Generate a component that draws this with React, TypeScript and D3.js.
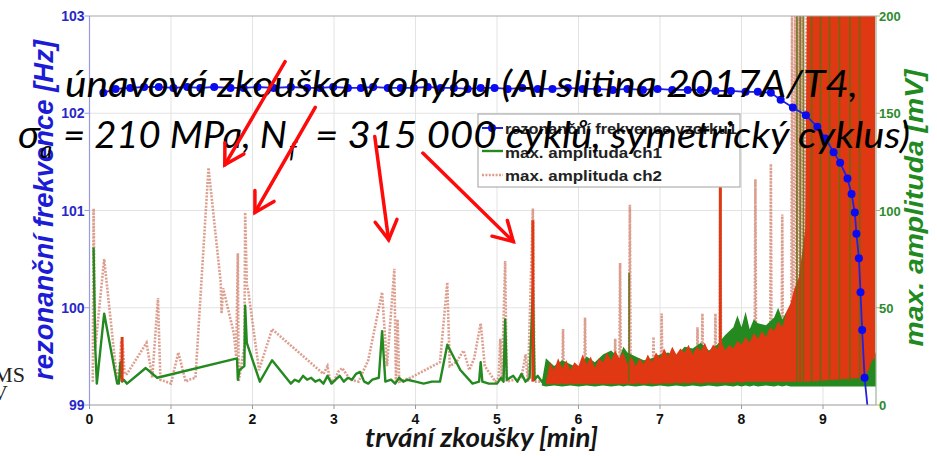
import React from "react";
import * as d3 from "d3";

const W = 937;
const H = 456;

const xTicks = [0, 1, 2, 3, 4, 5, 6, 7, 8, 9];
const freqTicks = [99, 100, 101, 102, 103];
const ampTicks = [0, 50, 100, 150, 200];

// resonant frequency of sample (Hz)
const freqTime = [
  0.17, 0.32, 0.5, 0.67, 0.85, 1.03, 1.2, 1.36, 1.53, 1.73,
  1.89, 2.06, 2.26, 2.47, 2.67, 2.83, 2.99, 3.17, 3.33, 3.48,
  3.66, 3.82, 3.98, 4.15, 4.31, 4.47, 4.64, 4.8, 4.97, 5.13,
  5.31, 5.5, 5.68, 5.87, 6.05, 6.23, 6.42, 6.6, 6.79, 6.97,
  7.15, 7.34, 7.5, 7.68, 7.87, 8.05, 8.2, 8.36, 8.48, 8.63,
  8.79, 8.93, 9.03, 9.13, 9.21, 9.3, 9.35, 9.39, 9.41, 9.44,
  9.46, 9.48, 9.51, 9.55,
];
const freqHz = [
  102.21, 102.25, 102.26, 102.27, 102.27, 102.26, 102.27, 102.26, 102.27, 102.26,
  102.26, 102.27, 102.26, 102.27, 102.26, 102.26, 102.27, 102.26, 102.26, 102.27,
  102.26, 102.26, 102.26, 102.27, 102.26, 102.26, 102.25, 102.26, 102.26, 102.25,
  102.26, 102.25, 102.25, 102.26, 102.25, 102.25, 102.24, 102.25, 102.24, 102.25,
  102.24, 102.24, 102.24, 102.23, 102.23, 102.22, 102.22, 102.21, 102.14, 102.06,
  101.98, 101.86, 101.74, 101.6, 101.49, 101.33, 101.17, 100.98, 100.76, 100.51,
  100.16, 99.77, 99.28, 98.95,
];

// max amplitude ch1 (mV), sparse part
const ch1Time = [
  0.05, 0.07, 0.09, 0.18, 0.34, 0.36, 0.38, 0.4, 0.42, 0.46,
  0.69, 0.83, 1.81, 1.82, 1.84, 1.9, 1.91, 1.93, 2.09, 2.24,
  2.47, 2.52, 2.57, 2.62, 2.67, 2.72, 2.77, 2.82, 2.87, 2.92,
  2.97, 3.02, 3.07, 3.12, 3.17, 3.22, 3.27, 3.32, 3.37, 3.42,
  3.47, 3.55, 3.59, 3.63, 3.7, 3.75, 3.8, 3.85, 3.9, 4.0,
  4.1, 4.2, 4.3, 4.39, 4.55, 4.7, 4.78, 4.8, 4.82, 4.9,
  5.0, 5.05, 5.08, 5.1, 5.12, 5.2, 5.25, 5.3, 5.35, 5.4,
  5.44, 5.46, 5.5, 5.55, 5.6,
];
const ch1Mv = [
  81, 30, 11, 47, 11, 11, 22, 12, 13, 11,
  19, 14, 24, 13, 18, 20, 51, 32, 12, 23,
  11, 13, 12, 15, 13, 14, 12, 13, 11, 15,
  11, 13, 15, 12, 14, 13, 16, 17, 12, 11,
  13, 14, 38, 12, 13, 11, 14, 12, 13, 12,
  11, 12, 12, 31, 18, 11, 12, 22, 12, 11,
  11, 14, 12, 44, 13, 15, 12, 16, 12, 14,
  60, 13, 15, 12, 14,
];

// ch1 dense part (envelope of the noise)
const ch1BandTime = [
  5.55, 5.6, 5.7, 5.8, 5.9, 6.0, 6.1, 6.2, 6.3, 6.4,
  6.5, 6.55, 6.6, 6.7, 6.8, 6.9, 7.0, 7.1, 7.2, 7.3,
  7.4, 7.5, 7.6, 7.7, 7.8, 7.9, 7.95, 8.0, 8.05, 8.1,
  8.15, 8.2, 8.3, 8.4, 8.45, 8.5, 8.55, 8.6, 8.7, 8.79,
  8.81, 9.55, 9.6, 9.65,
];
const ch1BandHigh = [
  12, 24, 20, 23, 21, 19, 25, 22, 26, 28,
  24, 30, 27, 25, 23, 24, 26, 27, 25, 30,
  29, 32, 28, 31, 36, 40, 46, 40, 48, 39,
  44, 42, 41, 45, 50, 44, 48, 40, 32, 30,
  200, 200, 32, 26,
];
const ch1BandLow = [
  10, 9.5, 10, 9.5, 10, 9.5, 10, 9.5, 10, 9.5,
  10, 9.5, 10, 9.5, 10, 9.5, 10, 9.5, 10, 9.5,
  10, 9.5, 10, 9.5, 10, 9.5, 10, 9.5, 10, 9.5,
  10, 9.5, 10, 9.5, 10, 9.5, 10, 9.5, 9.5, 9.5,
  9.5, 9.5, 9.5, 9.5,
];
const ch1SpikeTime = [6.62, 8.68, 8.72, 8.76, 8.86, 8.97, 9.08, 9.2, 9.33, 9.45];
const ch1SpikeMv = [68, 200, 200, 200, 200, 200, 200, 200, 200, 200];

// max amplitude ch2 (mV), sparse part
const ch2Time = [
  0.04, 0.05, 0.07, 0.18, 0.34, 0.37, 0.39, 0.41, 0.43, 0.46,
  0.7, 0.77, 0.84, 0.87, 1.0, 1.09, 1.18, 1.22, 1.3, 1.46,
  1.61, 1.62, 1.64, 1.77, 1.8, 1.82, 1.83, 1.9, 1.91, 1.93,
  1.95, 2.08, 2.24, 2.87, 2.92, 2.95, 3.0, 3.05, 3.1, 3.2,
  3.3, 3.42, 3.59, 3.65, 3.74, 3.76, 3.78, 3.8, 3.94, 4.3,
  4.39, 4.42, 4.5, 4.59, 4.66, 4.72, 4.8, 4.85, 4.98, 5.02,
  5.04, 5.06, 5.1, 5.12, 5.3, 5.35, 5.38, 5.44, 5.46, 5.6,
  5.8, 5.81, 5.82, 6.07, 6.08, 6.09, 6.44, 6.45, 6.46, 6.5,
  6.51, 6.52, 6.62, 6.63, 6.64, 6.91, 6.92, 6.93, 7.01, 7.02,
  7.03, 7.45, 7.46, 7.47, 7.51, 7.52, 7.53, 7.67, 7.68, 7.69,
  7.73, 7.74, 7.75, 8.16, 8.17, 8.18, 8.35, 8.36, 8.37, 8.49,
  8.5, 8.51, 8.61, 8.62, 8.63, 8.66, 8.67, 8.7, 8.71, 8.74,
  8.75, 8.8,
];
const ch2Mv = [
  12, 101, 29, 75, 12, 20, 33, 30, 16, 16,
  32, 14, 55, 13, 11, 27, 12, 13, 14, 122,
  63, 47, 60, 37, 25, 78, 12, 30, 99, 62,
  58, 18, 39, 16, 20, 13, 12, 17, 19, 13,
  12, 23, 58, 20, 70, 12, 44, 12, 14, 22,
  63, 20, 22, 28, 18, 24, 42, 20, 12, 14,
  34, 12, 74, 12, 14, 26, 12, 101, 12, 12,
  14, 39, 14, 14, 45, 14, 15, 34, 15, 15,
  73, 15, 15, 103, 15, 15, 35, 15, 15, 47,
  15, 15, 40, 15, 15, 47, 15, 15, 47, 15,
  15, 112, 15, 15, 116, 15, 15, 124, 15, 15,
  98, 15, 15, 200, 30, 200, 30, 200, 30, 200,
  30, 200,
];

// ch2 dense part (envelope of the noise)
const ch2BandTime = [
  5.6, 5.65, 5.7, 5.75, 5.8, 5.85, 5.9, 5.95, 6.0, 6.05,
  6.1, 6.15, 6.2, 6.25, 6.3, 6.35, 6.4, 6.45, 6.5, 6.55,
  6.6, 6.65, 6.7, 6.75, 6.8, 6.85, 6.9, 6.95, 7.0, 7.05,
  7.1, 7.15, 7.2, 7.25, 7.3, 7.35, 7.4, 7.45, 7.5, 7.55,
  7.6, 7.65, 7.7, 7.75, 7.8, 7.85, 7.9, 7.95, 8.0, 8.05,
  8.1, 8.15, 8.2, 8.25, 8.3, 8.35, 8.4, 8.45, 8.5, 8.55,
  8.6, 8.65, 8.7, 8.75, 8.78, 8.8, 9.5, 9.56, 9.6, 9.64,
];
const ch2BandHigh = [
  12, 22, 18, 24, 19, 23, 18, 22, 20, 26,
  21, 25, 19, 24, 22, 27, 23, 28, 24, 27,
  21, 25, 20, 24, 21, 26, 22, 27, 24, 29,
  25, 30, 26, 29, 27, 31, 26, 30, 28, 32,
  27, 31, 29, 33, 28, 31, 29, 33, 31, 35,
  32, 37, 34, 38, 35, 40, 38, 43, 40, 48,
  52, 60, 65, 80, 90, 200, 200, 200, 200, 200,
];
const ch2BandLow = [
  11, 10.5, 11, 10.5, 11, 10.5, 11, 10.5, 11, 10.5,
  11, 10.5, 11, 10.5, 11, 10.5, 11, 10.5, 11, 10.5,
  11, 10.5, 11, 11, 10.5, 11, 11, 10.5, 11, 11,
  11, 11, 11.5, 11, 11.5, 11, 11.5, 11.5, 11, 11.5,
  11.5, 11.5, 11.5, 11.5, 11.5, 11.5, 11.5, 12, 11.5, 12,
  12, 12, 12, 12, 12, 12, 12, 12, 12, 12,
  12, 12, 12, 12, 12, 12, 14, 18, 23, 24,
];
// ch2 dense single spikes (solid)
const ch2SolidTime = [0.4, 5.44, 7.74];
const ch2SolidMv = [35, 95, 112];
const ch2SolidBase = [12, 12, 14];

// annotation arrows (tail -> tip, in data coords: min, Hz)
const arrowTailT = [2.4, 2.77, 3.5, 4.09];
const arrowTailHz = [102.53, 102.06, 101.76, 101.59];
const arrowTipT = [1.66, 2.03, 3.67, 5.2];
const arrowTipHz = [101.47, 100.98, 100.7, 100.68];

const legendLabels = ["rezonanční frekvence vzorku1", "max. amplituda ch1", "max. amplituda ch2"];

const BLUE = "#0b0bf0";
const GREEN = "#24891f";
const RED = "#df3812";
const TAN = "#cf7a64";

export default function App() {
  const x = d3.scaleLinear().domain([0, 9.65]).range([89.5, 876]);
  const yF = d3.scaleLinear().domain([99, 103]).range([405, 16]);
  const yA = d3.scaleLinear().domain([0, 200]).range([405, 16]);

  const idx = (n: number) => d3.range(n);

  const freqLine = d3.line<number>().x((i) => x(freqTime[i])).y((i) => yF(freqHz[i]))(idx(freqTime.length));
  const ch1Line = d3.line<number>().x((i) => x(ch1Time[i])).y((i) => yA(ch1Mv[i]))(idx(ch1Time.length));
  const ch2Line = d3.line<number>().x((i) => x(ch2Time[i])).y((i) => yA(ch2Mv[i]))(idx(ch2Time.length));
  const ch1Band = d3
    .area<number>()
    .x((i) => x(ch1BandTime[i]))
    .y0((i) => yA(ch1BandLow[i]))
    .y1((i) => yA(ch1BandHigh[i]))(idx(ch1BandTime.length));
  const ch2Band = d3
    .area<number>()
    .x((i) => x(ch2BandTime[i]))
    .y0((i) => yA(ch2BandLow[i]))
    .y1((i) => yA(ch2BandHigh[i]))(idx(ch2BandTime.length));

  const x0 = x(0);
  const x1 = x(9.65);
  const yTop = yF(103);
  const yBot = yF(99);

  const arrows = arrowTailT.map((_, i) => {
    const tx = x(arrowTailT[i]);
    const ty = yF(arrowTailHz[i]);
    const px = x(arrowTipT[i]);
    const py = yF(arrowTipHz[i]);
    const ang = Math.atan2(ty - py, tx - px);
    const L = 22;
    const a = (30 * Math.PI) / 180;
    const h1 = [px + L * Math.cos(ang + a), py + L * Math.sin(ang + a)];
    const h2 = [px + L * Math.cos(ang - a), py + L * Math.sin(ang - a)];
    return { tx, ty, px, py, h1, h2 };
  });

  const titleFont = "Lato, 'Open Sans', sans-serif";
  const armFont = "'Liberation Sans', Arial, sans-serif";

  return (
    <svg
      width={W}
      height={H}
      viewBox={`0 0 ${W} ${H}`}
      style={{ position: "absolute", left: 0, top: 0, background: "#fff" }}
    >
      <defs>
        <clipPath id="plot">
          <rect x={x0} y={yTop} width={x1 - x0} height={yBot - yTop} />
        </clipPath>
      </defs>
      <rect x={0} y={0} width={W} height={H} fill="#fff" />

      {/* grid */}
      {xTicks.slice(1).map((t) => (
        <line key={"gx" + t} x1={x(t)} x2={x(t)} y1={yTop} y2={yBot} stroke="#e3e3e3" strokeWidth={1} />
      ))}
      {freqTicks.slice(1, -1).map((f) => (
        <line key={"gy" + f} x1={x0} x2={x1} y1={yF(f)} y2={yF(f)} stroke="#e3e3e3" strokeWidth={1} />
      ))}

      <g clipPath="url(#plot)">
        <path d={ch2Line || ""} fill="none" stroke={TAN} strokeWidth={2.6} strokeDasharray="2 1.4" strokeOpacity={0.72} />
        <path d={ch1Line || ""} fill="none" stroke={GREEN} strokeWidth={2.4} strokeLinejoin="round" />
        <path d={ch1Band || ""} fill={GREEN} />
        <path d={ch2Band || ""} fill={RED} />
        {ch1SpikeTime.map((t, i) => (
          <line key={"s1" + i} x1={x(t)} x2={x(t)} y1={yA(12)} y2={yA(ch1SpikeMv[i])} stroke="#6a6a14" strokeWidth={1.8} strokeOpacity={0.85} />
        ))}
        {ch2SolidTime.map((t, i) => (
          <line key={"s2" + i} x1={x(t)} x2={x(t)} y1={yA(ch2SolidBase[i])} y2={yA(ch2SolidMv[i])} stroke={RED} strokeWidth={3} />
        ))}
        <path d={freqLine || ""} fill="none" stroke="#2222dd" strokeWidth={1.8} />
        {freqTime.map((t, i) =>
          freqHz[i] >= 99 ? <circle key={"fd" + i} cx={x(t)} cy={yF(freqHz[i])} r={4} fill={BLUE} /> : null
        )}
      </g>

      {/* frame */}
      <line x1={x0} x2={x1} y1={yTop} y2={yTop} stroke="#a8a8a8" strokeWidth={1} />
      <line x1={x0} x2={x1} y1={yBot} y2={yBot} stroke="#9a9a9a" strokeWidth={1.2} />
      <line x1={x0} x2={x0} y1={yTop} y2={yBot} stroke="#9a9ae0" strokeWidth={1.2} />
      <line x1={x1} x2={x1} y1={yTop} y2={yBot} stroke="#9ab59a" strokeWidth={1.2} />

      {/* left ticks */}
      {freqTicks.map((f) => (
        <g key={"lt" + f}>
          <line x1={x0 - 5} x2={x0} y1={yF(f)} y2={yF(f)} stroke="#9a9ae0" strokeWidth={1} />
          <text x={x0 - 5} y={yF(f) + 5} textAnchor="end" fontFamily={armFont} fontWeight="bold" fontSize={14} fill="#2828c8">
            {f}
          </text>
        </g>
      ))}
      {/* right ticks */}
      {ampTicks.map((a) => (
        <g key={"rt" + a}>
          <line x1={x1} x2={x1 + 4} y1={yA(a)} y2={yA(a)} stroke="#9ab59a" strokeWidth={1} />
          <text x={x1 + 3} y={yA(a) + 5} textAnchor="start" fontFamily={armFont} fontWeight="bold" fontSize={13} fill="#2e8b2e">
            {a}
          </text>
        </g>
      ))}
      {/* bottom ticks */}
      {xTicks.map((t) => (
        <g key={"bt" + t}>
          <line x1={x(t)} x2={x(t)} y1={yBot} y2={yBot + 4} stroke="#9a9a9a" strokeWidth={1} />
          <text x={x(t)} y={yBot + 19} textAnchor="middle" fontFamily={armFont} fontWeight="bold" fontSize={14} fill="#111">
            {t}
          </text>
        </g>
      ))}

      {/* axis titles */}
      <text
        transform="translate(53,210) rotate(-90)"
        textAnchor="middle"
        fontFamily={armFont}
        fontWeight="bold"
        fontStyle="italic"
        fontSize={28}
        fill="#1c1cd6"
        textLength={340}
        lengthAdjust="spacingAndGlyphs"
      >
        rezonanční frekvence [Hz]
      </text>
      <text
        transform="translate(923,208) rotate(-90)"
        textAnchor="middle"
        fontFamily={armFont}
        fontWeight="bold"
        fontStyle="italic"
        fontSize={26}
        fill="#1f8a1f"
        textLength={277}
        lengthAdjust="spacingAndGlyphs"
      >
        max. amplituda [mV]
      </text>
      <text
        x={365}
        y={447}
        fontFamily={titleFont}
        fontWeight="bold"
        fontStyle="italic"
        fontSize={26}
        fill="#151515"
        textLength={233}
        lengthAdjust="spacingAndGlyphs"
      >
        trvání zkoušky [min]
      </text>

      {/* clipped fragments at the left edge (as in the source slide) */}
      <text x={25} y={382} textAnchor="end" fontFamily="'Liberation Serif', serif" fontSize={22} fill="#222">
        RMS
      </text>
      <text x={8} y={400} textAnchor="end" fontFamily="'Liberation Serif', serif" fontSize={22} fill="#222">
        mV
      </text>

      {/* legend */}
      <g>
        <rect x={478} y={114} width={262} height={73} fill="#fff" stroke="#a0a0a0" strokeWidth={1} />
        <line x1={482} x2={503} y1={128} y2={128} stroke="#2222dd" strokeWidth={2} />
        <circle cx={492} cy={128} r={4} fill={BLUE} />
        <line x1={482} x2={503} y1={151} y2={151} stroke={GREEN} strokeWidth={2.4} />
        <line x1={482} x2={503} y1={175} y2={175} stroke={TAN} strokeWidth={2.6} strokeDasharray="2 1.4" strokeOpacity={0.72} />
        {legendLabels.map((l, i) => (
          <text
            key={"lg" + i}
            x={505}
            y={[134, 158, 181][i]}
            fontFamily={armFont}
            fontWeight="bold"
            fontSize={15}
            fill="#222"
            textLength={i === 0 ? 232 : 157}
            lengthAdjust="spacingAndGlyphs"
          >
            {l}
          </text>
        ))}
      </g>

      {/* overlaid title */}
      <g fontFamily={titleFont} fontStyle="italic" fill="#000">
        <text x={65} y={97} fontSize={36} textLength={793} lengthAdjust="spacingAndGlyphs">
          únavová zkouška v ohybu (Al slitina 2017A/T4,
        </text>
        <text x={18} y={148} fontSize={38} textLength={22} lengthAdjust="spacingAndGlyphs">
          σ
        </text>
        <text x={40} y={158} fontSize={24}>
          a
        </text>
        <text x={63} y={148} fontSize={36} textLength={224} lengthAdjust="spacingAndGlyphs">
          = 210 MPa, N
        </text>
        <text x={289} y={158} fontSize={24}>
          f
        </text>
        <text x={315} y={148} fontSize={36} textLength={595} lengthAdjust="spacingAndGlyphs">
          = 315 000 cyklů, symetrický cyklus)
        </text>
      </g>

      {/* red arrows */}
      {arrows.map((a, i) => (
        <g key={"ar" + i} stroke="#ff0a0a" strokeWidth={3.5} fill="none" strokeLinecap="round">
          <line x1={a.tx} y1={a.ty} x2={a.px} y2={a.py} />
          <polyline points={`${a.h1[0]},${a.h1[1]} ${a.px},${a.py} ${a.h2[0]},${a.h2[1]}`} />
        </g>
      ))}
    </svg>
  );
}
